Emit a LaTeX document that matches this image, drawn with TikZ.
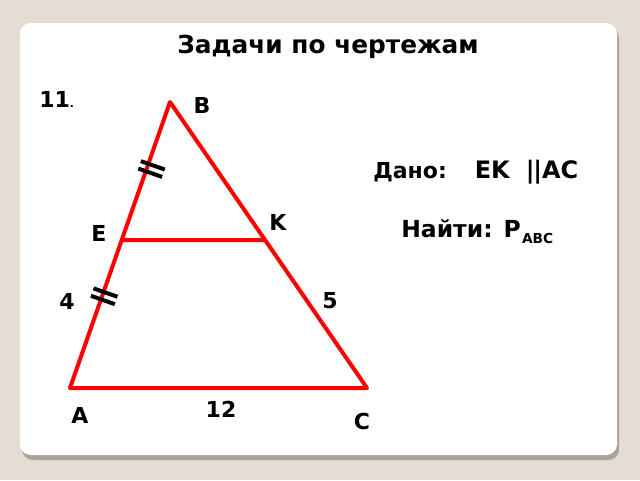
\documentclass[tikz,border=0pt]{standalone}
\usepackage{fontspec}
\newfontfamily\boldf{DejaVu Sans Bold}
\usetikzlibrary{calc}
\definecolor{bgc}{RGB}{227,221,211}
\definecolor{shc}{RGB}{168,164,156}
\definecolor{tri}{RGB}{255,0,0}
\begin{document}
\begin{tikzpicture}[x=0.75pt,y=-0.75pt,
  lbl/.style={font=\boldf\fontsize{16.5}{20}\selectfont, inner sep=0pt},
  side/.style={draw=tri, line width=3pt, line join=round},
  tick/.style={draw=black, line width=3pt}]
\useasboundingbox (0,0) rectangle (640,480);
\fill[bgc] (0,0) rectangle (640,480);
\fill[shc, rounded corners=8pt] (22,27) rectangle (619,460);
\fill[white, rounded corners=8pt] (20,23) rectangle (617,455);
\node[font=\boldf\fontsize{18.6}{22}\selectfont, inner sep=0pt] (title) at (328,47) {Задачи по чертежам};
\node[lbl, anchor=west] (num) at (39,99) {11{\fontsize{8}{10}\selectfont .}};
\coordinate (A) at (70,388);
\coordinate (B) at (170,102);
\coordinate (C) at (367,388);
\coordinate (E) at ($(A)!0.517!(B)$);
\coordinate (K) at ($(B)!0.4825!(C)$);
\draw[side] (A) -- (B) -- (C) -- cycle;
\draw[side] (E) -- (K);
% ticks
\foreach \t/\l/\r in {0.758/6/13,0.784/6/13,0.31/8/11,0.336/8/11}{
  \coordinate (m) at ($(A)!\t!(B)$);
  \draw[tick] ($(m)!\l pt!90:(B)$) -- ($(m)!\r pt!-90:(B)$);
}
\node[lbl] (lB) at (202,105) {B};
\node[lbl] (lE) at (99,233) {E};
\node[lbl] (lK) at (278,222) {K};
\node[lbl] (l4) at (67,301) {4};
\node[lbl] (l5) at (330,301) {5};
\node[lbl] (l12) at (221,409) {12};
\node[lbl] (lA) at (80,415) {A};
\node[lbl] (lC) at (362,421) {C};
\node[lbl, anchor=base west] (dano) at (373,178) {Дано:\kern21pt{\fontsize{18}{20}\selectfont EK\kern12pt|\kern-1pt|\kern0pt AC}};
\node[lbl, font=\boldf\fontsize{17.6}{20}\selectfont, anchor=base west] (najti) at (401,237) {Найти: P\kern1pt\raisebox{-4.5pt}{\fontsize{10.3}{12}\selectfont ABC}};
\end{tikzpicture}
\end{document}
